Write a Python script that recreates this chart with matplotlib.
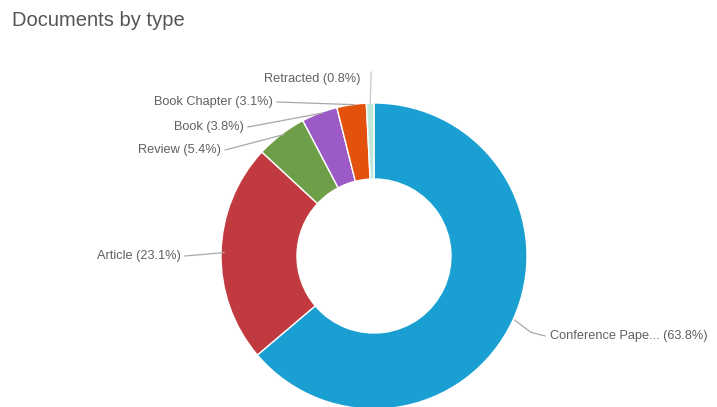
import matplotlib
matplotlib.use("Agg")
import matplotlib.pyplot as plt
import numpy as np

plt.rcParams['font.family'] = ['Liberation Sans', 'DejaVu Sans']

# Document types, in drawing order (clockwise from 12 o'clock)
categories = ["Conference Paper", "Article", "Review", "Book", "Book Chapter", "Retracted"]
shares = [63.8, 23.1, 5.4, 3.8, 3.1, 0.8]
colors = ["#1a9fd2", "#c13a40", "#6e9f48", "#9b5ac6", "#e2520d", "#bfe8dd"]

W, H = 717, 407
fig = plt.figure(figsize=(W / 100, H / 100), dpi=100)
ax = fig.add_axes([0, 0, 1, 1])

cx, cy = 374, H - 256
r_out = 153
hole = 77

wedges, _ = ax.pie(shares, colors=colors, startangle=90, counterclock=False,
                   center=(cx, cy), radius=r_out,
                   wedgeprops=dict(width=r_out - hole, edgecolor="white", linewidth=1.0))

ax.set_xlim(0, W)
ax.set_ylim(0, H)
ax.set_aspect("equal")
ax.axis("off")


def short(name, n=15):
    return name if len(name) <= n else name[:n] + "..."


# label anchor (x, y from top) and alignment for each slice
label_pos = {
    "Conference Paper": (550, 336, "left"),
    "Article": (181, 256, "right"),
    "Review": (221, 150, "right"),
    "Book": (244, 127, "right"),
    "Book Chapter": (273, 102, "right"),
    "Retracted": (360, 79, "right"),
}

for w, name, val in zip(wedges, categories, shares):
    mid = np.deg2rad((w.theta1 + w.theta2) / 2)
    px = cx + r_out * np.cos(mid)
    py = cy + r_out * np.sin(mid)
    lx, ly, ha = label_pos[name]
    ly = H - ly
    ax.text(lx, ly, f"{short(name)} ({val}%)", ha=ha, va="center",
            fontsize=9.2, color="#606060")
    if name == "Retracted":
        ax.plot([px, px + 1], [py, H - 72], color="#c8c8c8", lw=0.9)
    elif name == "Conference Paper":
        ax.plot([px + 2, px + 18, lx - 5], [py, py - 12, ly], color="#a8a8a8", lw=0.9)
    else:
        sx = lx + 4
        ax.plot([sx, px + 3], [ly, py], color="#a8a8a8", lw=0.9)

fig.text(12 / W, 1 - 20 / H, "Documents by type", ha="left", va="center",
         fontsize=14.5, color="#555555")

fig.savefig("out.png", dpi=100, facecolor="white")
